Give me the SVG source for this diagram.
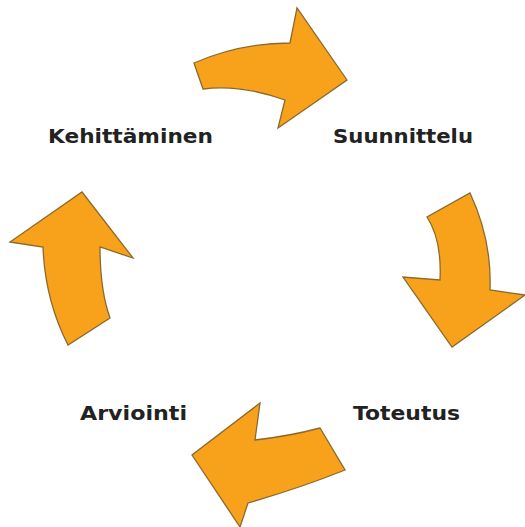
<svg xmlns="http://www.w3.org/2000/svg" width="525" height="527" viewBox="0 0 525 527">
<style>
.arrow{fill:#F8A21C;stroke:#8A6A2C;stroke-width:1.3;stroke-linejoin:miter}
.lbl{font-family:"DejaVu Sans","Liberation Sans",sans-serif;font-weight:bold;font-size:20px;fill:#222}
</style>
<rect width="525" height="527" fill="#fff"/>
<g id="connectors">
<path id="arrow-top" class="arrow" d="M194,63 Q240,43 290,43 L297,8 L347,80 L278,128 L285,100 Q240,84 203,89 Z"/>
<path id="arrow-right" class="arrow" d="M470,193 Q492,240 490,290 L525,295 L452,347 L403,277 L440,280 Q442,240 427,217 Z"/>
<path id="arrow-bottom" class="arrow" d="M320,428 Q290,436 255,440 L260,403 L192,455 L240,527 L248,503 Q300,488 345,470 Z"/>
<path id="arrow-left" class="arrow" d="M68,345 Q45,300 43,247 L10,242 L82,192 L133,258 L100,247 Q100,290 110,318 Z"/>
</g>
<g id="kehittaminen"><text class="lbl" x="48" y="143" textLength="165" lengthAdjust="spacingAndGlyphs">Kehittäminen</text></g>
<g id="suunnittelu"><text class="lbl" x="333" y="143" textLength="140" lengthAdjust="spacingAndGlyphs">Suunnittelu</text></g>
<g id="toteutus"><text class="lbl" x="353" y="420" textLength="107" lengthAdjust="spacingAndGlyphs">Toteutus</text></g>
<g id="arviointi"><text class="lbl" x="80" y="420" textLength="107" lengthAdjust="spacingAndGlyphs">Arviointi</text></g>
</svg>
